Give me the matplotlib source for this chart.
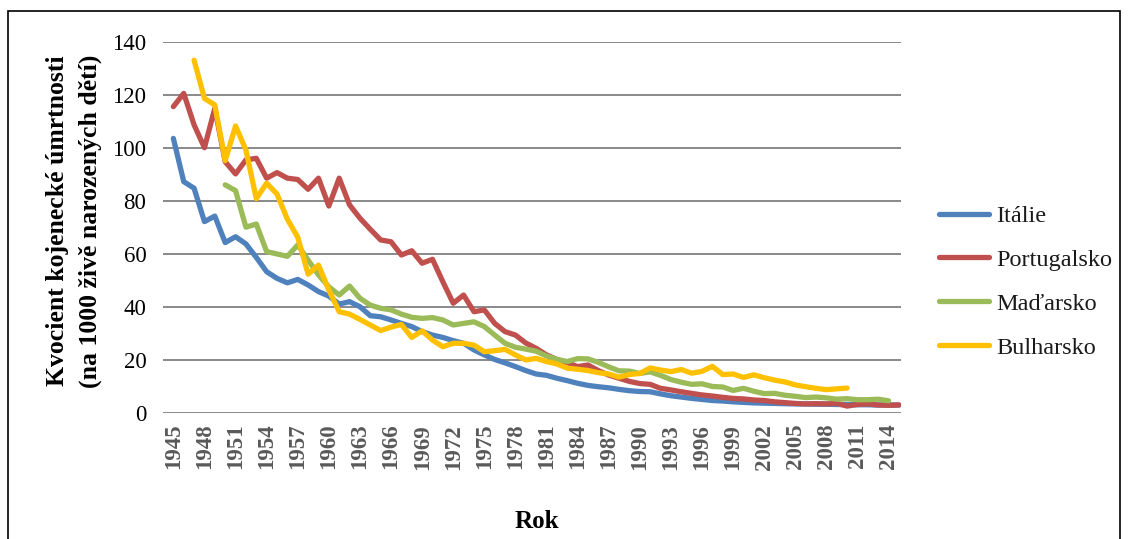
import numpy as np
import matplotlib
matplotlib.use("Agg")
import matplotlib.pyplot as plt
from matplotlib.patches import Rectangle

plt.rcParams['font.family'] = ['Liberation Serif', 'DejaVu Serif']

# Infant mortality per 1000 live births
years_it = list(range(1945, 2016))
italie = [103.5, 87.2, 84.7, 72.1, 74.2, 64.2, 66.4, 63.7, 58.6, 53.2,
          50.7, 49.0, 50.3, 48.2, 45.7, 44.0, 41.0, 41.9, 40.0, 36.6,
          36.2, 35.0, 33.7, 32.5, 30.6, 29.3, 28.4, 27.2, 26.2, 23.7,
          21.8, 20.1, 18.8, 17.4, 15.9, 14.6, 14.1, 13.0, 12.1, 11.1,
          10.3, 9.8, 9.4, 8.8, 8.3, 8.0, 7.9, 7.1, 6.4, 5.9,
          5.4, 5.0, 4.6, 4.4, 4.1, 3.9, 3.7, 3.6, 3.5, 3.4,
          3.3, 3.3, 3.2, 3.2, 3.1, 3.1, 3.0, 3.0, 2.9, 2.9,
          2.9]

years_pt = list(range(1945, 2016))
portugalsko = [115.5, 120.5, 108.6, 100.0, 114.9, 94.7, 90.1, 95.4, 96.0, 88.5,
               90.6, 88.5, 88.0, 84.3, 88.5, 78.0, 88.5, 78.4, 73.4, 69.2,
               65.2, 64.5, 59.5, 61.1, 56.4, 57.9, 49.4, 41.3, 44.4, 38.1,
               38.8, 33.7, 30.6, 29.3, 26.3, 24.3, 21.8, 20.1, 18.9, 17.4,
               18.0, 15.9, 14.2, 13.0, 11.8, 11.0, 10.7, 9.2, 8.6, 7.9,
               7.3, 6.7, 6.3, 5.8, 5.4, 5.2, 4.8, 4.6, 4.1, 3.8,
               3.5, 3.3, 3.4, 3.3, 3.5, 2.5, 3.1, 3.3, 2.9, 2.8,
               2.9]

years_hu = list(range(1950, 2015))
madarsko = [86.0, 83.8, 70.0, 71.2, 60.8, 59.9, 59.0, 63.3, 57.6, 52.0,
            47.5, 44.4, 47.8, 43.2, 40.6, 39.4, 38.8, 37.2, 36.0, 35.6,
            35.9, 35.0, 33.1, 33.7, 34.3, 32.5, 29.3, 26.2, 24.7, 24.0,
            23.2, 21.4, 20.1, 19.3, 20.4, 20.3, 19.0, 17.3, 15.8, 15.7,
            14.8, 15.4, 14.1, 12.5, 11.5, 10.7, 10.9, 9.9, 9.7, 8.4,
            9.2, 8.1, 7.2, 7.3, 6.6, 6.2, 5.7, 5.9, 5.6, 5.1,
            5.3, 4.9, 4.9, 5.1, 4.5]

years_bg = list(range(1947, 2011))
bulharsko = [133.0, 118.6, 116.1, 95.1, 108.2, 99.1, 80.8, 86.6, 82.5, 73.0,
             66.2, 52.3, 55.7, 46.3, 38.1, 37.2, 35.2, 33.1, 31.0, 32.3,
             33.3, 28.4, 30.9, 27.4, 24.9, 26.2, 26.2, 25.5, 23.0, 23.4,
             23.9, 21.8, 19.9, 20.5, 19.3, 18.4, 16.8, 16.4, 15.9, 15.1,
             14.6, 13.4, 14.4, 14.8, 16.9, 16.1, 15.5, 16.3, 14.9, 15.6,
             17.5, 14.4, 14.6, 13.3, 14.3, 13.2, 12.3, 11.6, 10.5, 9.8,
             9.2, 8.7, 9.0, 9.3]

series = [
    (years_it, italie, 'Itálie', '#4F81BD'),
    (years_pt, portugalsko, 'Portugalsko', '#C0504D'),
    (years_hu, madarsko, 'Maďarsko', '#9BBB59'),
    (years_bg, bulharsko, 'Bulharsko', '#FFC000'),
]

W, H = 1128, 539
fig = plt.figure(figsize=(W / 100, H / 100), dpi=100)
ax = fig.add_axes([163 / W, (H - 412.7) / H, (901 - 163) / W, (412.7 - 41.7) / H])

for x, y, name, color in series:
    ax.plot(x, y, color=color, lw=3.8, label=name,
            solid_joinstyle='round', solid_capstyle='round')

ax.set_xlim(1944.0, 2015.2)
ax.set_ylim(0, 140)
ax.set_yticks(np.arange(0, 141, 20))
ax.set_xticks(range(1945, 2015, 3))
ax.set_xticklabels([str(v) for v in range(1945, 2015, 3)], rotation=90,
                   fontweight='bold', color='#595959', fontsize=16.5)
ax.tick_params(axis='x', length=0, pad=8)
ax.tick_params(axis='y', length=0, pad=12, labelsize=16.5)

ax.grid(axis='y', color='#808080', lw=1.3)
ax.set_axisbelow(True)
for s in ax.spines.values():
    s.set_visible(False)

# legend to the right of the plot
ax.legend(loc='upper left', bbox_to_anchor=(939 / W, 1 - 205 / H),
          bbox_transform=fig.transFigure, frameon=False, fontsize=17.5,
          handlelength=2.05, handletextpad=0.3, labelspacing=0.9,
          borderpad=0, borderaxespad=0, labelcolor='#1a1a1a')

# axis titles
fig.text(58 / W, 1 - 221 / H, 'Kvocient kojenecké úmrtnosti', rotation=90,
         ha='center', va='center', fontsize=18.5, fontweight='bold')
fig.text(90 / W, 1 - 221 / H, '(na 1000 živě narozených dětí)', rotation=90,
         ha='center', va='center', fontsize=18.5, fontweight='bold')
fig.text(537 / W, 1 - 521 / H, 'Rok', ha='center', va='center',
         fontsize=18, fontweight='bold')

# outer frame
fig.patches.append(Rectangle((8 / W, -0.05), (1120 - 8) / W, (H - 10.5) / H + 0.05,
                             transform=fig.transFigure, fill=False,
                             ec='black', lw=1.2))

fig.savefig('out.png', dpi=100)
